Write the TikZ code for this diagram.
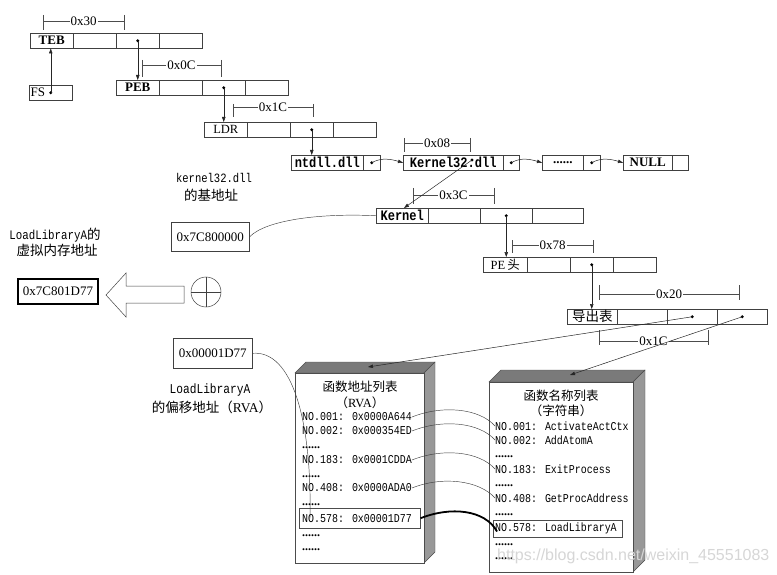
\documentclass[tikz,border=0pt]{standalone}
\usepackage{fontspec}
\setmainfont{Liberation Serif}
\newfontfamily\monof[FakeStretch=0.83]{Liberation Mono}
\newfontfamily\cjk{Noto Sans CJK SC}
\newfontfamily\wmfont{Liberation Sans}
\usetikzlibrary{arrows.meta}
\newcommand\dimmark[7]{%
  \draw[dimst] (#1,#3) -- (#1,#4) (#2,#3) -- (#2,#4);
  \draw[dimst] (#1,#5) -- (#2,#5);
  \node[dimlab] (#7) at ({(#1+#2)/2},#5) {#6};}
\begin{document}
\begin{tikzpicture}[x=1pt,y=-1pt,
  cell/.style={draw=black!75, line width=0.5pt, minimum height=15pt, inner sep=0pt, anchor=north west, font=\fontsize{12.5}{13}\selectfont},
  bcell/.style={cell, font=\bfseries\fontsize{13}{13}\selectfont},
  mcell/.style={cell, font=\monof\bfseries\fontsize{14.5}{13}\selectfont},
  arr/.style={-{Triangle[length=5pt,width=3.5pt]}, line width=0.5pt, black!85},
  dimst/.style={line width=0.45pt, black!70},
  dimlab/.style={fill=white, inner sep=1pt, font=\fontsize{13}{14}\selectfont},
  entry/.style={anchor=west, inner sep=0pt, font=\monof\fontsize{12}{12}\selectfont},
  dotsx/.style={anchor=west, inner sep=0pt, text height=2pt, text depth=0pt, font=\bfseries\fontsize{12}{12}\selectfont},
  cjkl/.style={inner sep=0pt, font=\cjk\fontsize{13.5}{15}\selectfont},
  box/.style={draw=black!75, line width=0.6pt, anchor=north west, inner sep=0pt, font=\fontsize{13}{14}\selectfont},
  curv/.style={line width=0.45pt, black!75}
]
\useasboundingbox (0,0) rectangle (777,575);

% ---- TEB row
\node[bcell, minimum width=43pt] (teb1) at (30,33) {TEB};
\node[cell, minimum width=43pt] (teb2) at (73,33) {};
\node[cell, minimum width=43pt] (teb3) at (116,33) {};
\node[cell, minimum width=43pt] (teb4) at (159,33) {};
% ---- FS
\node[cell, minimum width=43pt] (fs) at (29,85) {};
\node[anchor=west, inner sep=1.5pt, font=\fontsize{13}{13}\selectfont] (fst) at (fs.west) {FS};
% ---- PEB row
\node[bcell, minimum width=43pt] (peb1) at (116,80) {PEB};
\node[cell, minimum width=43pt] (peb2) at (159,80) {};
\node[cell, minimum width=43pt] (peb3) at (202,80) {};
\node[cell, minimum width=43pt] (peb4) at (245,80) {};
% ---- LDR row
\node[cell, minimum width=43pt] (ldr1) at (204,122) {LDR};
\node[cell, minimum width=43pt] (ldr2) at (247,122) {};
\node[cell, minimum width=43pt] (ldr3) at (290,122) {};
\node[cell, minimum width=43pt] (ldr4) at (333,122) {};
% ---- list row
\node[mcell, minimum width=72pt] (nt1) at (291,155) {ntdll.dll};
\node[cell, minimum width=17pt] (nt2) at (363,155) {};
\node[mcell, minimum width=100pt] (k1) at (403,155) {Kernel32.dll};
\node[cell, minimum width=16pt] (k2) at (503,155) {};
\node[cell, minimum width=41pt, font=\bfseries\fontsize{13}{10}\selectfont] (l1) at (542,155) {......};
\node[cell, minimum width=17pt] (l2) at (583,155) {};
\node[bcell, minimum width=49pt] (nu1) at (623,155) {NULL};
\node[cell, minimum width=16pt] (nu2) at (672,155) {};
% ---- Kernel row
\node[mcell, minimum width=52pt] (ke1) at (376,208) {Kernel};
\node[cell, minimum width=52pt] (ke2) at (428,208) {};
\node[cell, minimum width=52pt] (ke3) at (480,208) {};
\node[cell, minimum width=51pt] (ke4) at (532,208) {};
% ---- PE row
\node[cell, minimum width=44pt] (pe1) at (483,257) {PE\,{\cjk\fontsize{12.5}{13}\selectfont 头}};
\node[cell, minimum width=43pt] (pe2) at (527,257) {};
\node[cell, minimum width=43pt] (pe3) at (570,257) {};
\node[cell, minimum width=43pt] (pe4) at (613,257) {};
% ---- Export row
\node[cell, minimum width=50pt, font=\cjk\fontsize{13.5}{14}\selectfont] (ex1) at (567,309) {导出表};
\node[cell, minimum width=50pt] (ex2) at (617,309) {};
\node[cell, minimum width=50pt] (ex3) at (667,309) {};
\node[cell, minimum width=50pt] (ex4) at (717,309) {};

% ---- dimension marks
\dimmark{43}{124}{15}{30}{21}{0x30}{d30}
\dimmark{142}{221}{60}{77}{65}{0x0C}{d0c}
\dimmark{233}{313}{104}{117}{107}{0x1C}{d1ca}
\dimmark{404}{470}{138}{152}{143}{0x08}{d08}
\dimmark{413}{494}{188}{204}{195}{0x3C}{d3c}
\dimmark{512}{593}{240}{253}{245}{0x78}{d78}
\dimmark{599}{739}{285}{300}{294}{0x20}{d20}
\dimmark{599}{708}{330}{345}{341}{0x1C}{d1cb}

% ---- dots
\foreach \n in {fs,teb3,peb3,ldr3,nt2,k2,l2,ke3,pe3,ex3,ex4}{\fill (\n.center) circle (1.6pt);}
\coordinate (kd) at (472,160);
\fill (kd) circle (1.6pt);

% ---- pointer arrows
\draw[arr] (fs.center) -- (fs.center |- teb1.south);
\draw[arr] (teb3.center) -- (teb3.center |- peb1.north);
\draw[arr] (peb3.center) -- (peb3.center |- ldr1.north);
\draw[arr] (ldr3.center) -- (ldr3.center |- nt1.north);
\draw[arr] (nt2.center) .. controls +(10,-6) and +(-10,-3) .. (k1.west);
\draw[arr] (k2.center) .. controls +(10,-6) and +(-10,-3) .. (l1.west);
\draw[arr] (l2.center) .. controls +(10,-6) and +(-10,-3) .. (nu1.west);
\draw[arr] (kd) -- ([xshift=28pt]ke1.north west);
\draw[arr] (ke3.center) -- (ke3.center |- pe1.north);
\draw[arr] (pe3.center) -- (pe3.center |- ex1.north);

% ---- left labels
\node[inner sep=0pt, font=\monof\fontsize{12.7}{13}\selectfont] (kl1) at (214,178) {kernel32.dll};
\node[cjkl] (kl2) at (211,195) {的基地址};
\node[box, minimum width=78pt, minimum height=29pt] (base) at (171,222) {0x7C800000};
\draw[curv] (base.east) .. controls (266,220) and (320,213) .. (ke1.west);

\node[inner sep=0pt] (ll1) at (55,235) {{\monof\fontsize{13}{13}\selectfont LoadLibraryA}{\cjk\fontsize{13.5}{14}\selectfont 的}};
\node[cjkl] (ll2) at (57,250) {虚拟内存地址};
\node[box, line width=2pt, draw=black, minimum width=80pt, minimum height=25pt] (va) at (17,278) {0x7C801D77};

\draw[line width=0.5pt, black!75] (184,286) -- (126,286) -- (126,273) -- (106,295) -- (126,317) -- (126,303) -- (184,303) -- cycle;
\node[draw=black!75, circle, minimum size=30pt, inner sep=0pt, line width=0.5pt] (plus) at (206,292) {};
\draw[line width=0.5pt, black!75] (plus.north) -- (plus.south) (plus.west) -- (plus.east);

\node[box, minimum width=79pt, minimum height=30pt] (rva) at (173,338) {0x00001D77};
\node[inner sep=0pt, font=\monof\fontsize{13.5}{14}\selectfont] (rl1) at (210,390) {LoadLibraryA};
\node[inner sep=0pt, font=\fontsize{13.5}{14}\selectfont] (rl2) at (212,407) {{\cjk 的偏移地址（}RVA{\cjk ）}};

% ---- 3D boxes
\fill[fill={rgb,255:red,122;green,122;blue,122}, draw=black!70, line width=0.4pt] (295,373) -- (306,362) -- (435,362) -- (424,373) -- cycle;
\fill[fill={rgb,255:red,152;green,152;blue,152}, draw=black!70, line width=0.4pt] (424,373) -- (435,362) -- (435,552) -- (424,563) -- cycle;
\node[draw=black!70, line width=0.5pt, fill=white, anchor=north west, minimum width=129pt, minimum height=190pt, inner sep=0pt] (abox) at (295,373) {};

\fill[fill={rgb,255:red,122;green,122;blue,122}, draw=black!70, line width=0.4pt] (489,382) -- (501,370) -- (645,370) -- (633,382) -- cycle;
\fill[fill={rgb,255:red,152;green,152;blue,152}, draw=black!70, line width=0.4pt] (633,382) -- (645,370) -- (645,560) -- (633,572) -- cycle;
\node[draw=black!70, line width=0.5pt, fill=white, anchor=north west, minimum width=144pt, minimum height=190pt, inner sep=0pt] (nbox) at (489,382) {};

% address table
\node[inner sep=0pt, font=\cjk\fontsize{12.5}{13}\selectfont] (at1) at (360,387) {函数地址列表};
\node[inner sep=0pt, font=\fontsize{12.5}{13}\selectfont] (at2) at (360,403) {{\cjk （}RVA{\cjk ）}};
\node[entry] (a1) at (302,417) {NO.001: 0x0000A644};
\node[entry] (a2) at (302,431) {NO.002: 0x000354ED};
\node[dotsx] (ad1) at (302,447) {......};
\node[entry] (a3) at (302,460) {NO.183: 0x0001CDDA};
\node[dotsx] (ad2) at (302,476) {......};
\node[entry] (a4) at (302,488) {NO.408: 0x0000ADA0};
\node[dotsx] (ad3) at (302,504) {......};
\node[draw=black!70, line width=0.5pt, anchor=north west, minimum width=121pt, minimum height=20pt, inner sep=0pt] (a5box) at (299,508) {};
\node[entry] (a5) at (302,518.5) {NO.578: 0x00001D77};
\node[dotsx] (ad4) at (302,535) {......};
\node[dotsx] (ad5) at (302,549) {......};

% name table
\node[inner sep=0pt, font=\cjk\fontsize{12.5}{13}\selectfont] (nt1t) at (561,396) {函数名称列表};
\node[inner sep=0pt, font=\cjk\fontsize{12.5}{13}\selectfont] (nt2t) at (561,411) {（字符串）};
\node[entry] (n1) at (495,426) {NO.001: ActivateActCtx};
\node[entry] (n2) at (495,440) {NO.002: AddAtomA};
\node[dotsx] (nd1) at (495,456) {......};
\node[entry] (n3) at (495,469) {NO.183: ExitProcess};
\node[dotsx] (nd2) at (495,485) {......};
\node[entry] (n4) at (495,498) {NO.408: GetProcAddress};
\node[dotsx] (nd3) at (495,514) {......};
\node[draw=black!70, line width=0.5pt, anchor=north west, minimum width=129pt, minimum height=17pt, inner sep=0pt] (n5box) at (493,520) {};
\node[entry] (n5) at (495,528.5) {NO.578: LoadLibraryA};
\node[dotsx] (nd4) at (495,544) {......};
\node[dotsx] (nd5) at (495,558) {......};

% watermark
\node[anchor=west, inner sep=0pt, text=black!16, font=\wmfont\fontsize{16}{17}\selectfont] (wm) at (497,556) {https://blog.csdn.net/weixin\_45551083};

% export table pointers
\coordinate (atop) at (368,367);
\coordinate (ntop) at (570,375);
\draw[arr] (ex3.center) -- (atop);
\draw[arr] (ex4.center) -- (ntop);

% RVA curve
\draw[curv] (rva.east) .. controls (292,350) and (312,420) .. ([xshift=8pt]a5.west);

% address -> name curves
\draw[curv] (a1.east) .. controls +(30,-12) and +(-16,-18) .. (n1.west);
\draw[curv] (a2.east) .. controls +(30,-12) and +(-16,-18) .. (n2.west);
\draw[curv] (a3.east) .. controls +(30,-12) and +(-16,-18) .. (n3.west);
\draw[curv] (a4.east) .. controls +(30,-12) and +(-16,-18) .. (n4.west);
\draw[line width=1.8pt, black] (a5box.east) .. controls +(30,-12) and +(-12,-22) .. ([xshift=2pt,yshift=-3pt]n5.west);
\end{tikzpicture}
\end{document}
